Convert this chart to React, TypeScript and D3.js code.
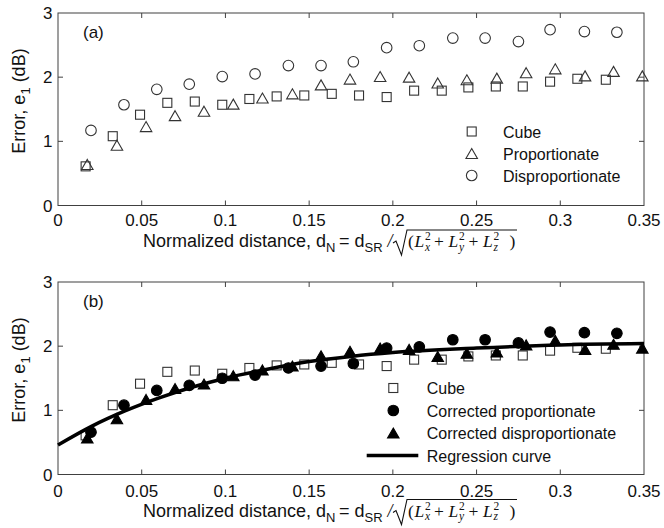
import React from "react";
import * as d3 from "d3";

// ---------- data ----------
const cubeD = [0.0165, 0.0327, 0.049, 0.0653, 0.0817, 0.0981, 0.1143, 0.1306, 0.1471, 0.1635, 0.1798, 0.1963, 0.2127, 0.2292, 0.2451, 0.2615, 0.2776, 0.2939, 0.3102, 0.3272];
const cubeE = [0.61, 1.08, 1.415, 1.6, 1.62, 1.57, 1.66, 1.7, 1.715, 1.74, 1.715, 1.69, 1.79, 1.79, 1.84, 1.855, 1.855, 1.93, 1.975, 1.96];

const propD = [0.0175, 0.0352, 0.0526, 0.0699, 0.0872, 0.1047, 0.1221, 0.14, 0.1571, 0.1744, 0.1924, 0.2097, 0.2268, 0.2442, 0.2621, 0.2796, 0.297, 0.3148, 0.3318, 0.349];
const propE = [0.64, 0.94, 1.23, 1.4, 1.47, 1.58, 1.675, 1.74, 1.88, 1.97, 2.01, 2.0, 1.91, 1.96, 1.985, 2.07, 2.13, 2.02, 2.09, 2.02];

const dispD = [0.0197, 0.0394, 0.059, 0.0784, 0.0981, 0.1177, 0.1376, 0.1571, 0.1764, 0.1963, 0.2158, 0.2358, 0.2551, 0.275, 0.2939, 0.3144, 0.3338];
const dispE = [1.17, 1.57, 1.81, 1.89, 2.01, 2.05, 2.18, 2.18, 2.24, 2.46, 2.49, 2.61, 2.61, 2.555, 2.74, 2.71, 2.7];

const corrPropE = [0.66, 1.08, 1.31, 1.39, 1.5, 1.55, 1.66, 1.69, 1.73, 1.97, 1.99, 2.1, 2.1, 2.05, 2.22, 2.21, 2.2];
const corrDispE = [0.57, 0.87, 1.17, 1.34, 1.41, 1.54, 1.63, 1.69, 1.85, 1.92, 1.97, 1.95, 1.84, 1.89, 1.91, 2.02, 2.09, 1.95, 2.03, 1.97];

const regD = [0, 0.02, 0.04, 0.06, 0.08, 0.1, 0.125, 0.15, 0.175, 0.2, 0.25, 0.3, 0.35];
const regE = [0.46, 0.75, 0.99, 1.19, 1.36, 1.5, 1.64, 1.76, 1.84, 1.9, 1.97, 2.02, 2.04];

const xTicks = [0, 0.05, 0.1, 0.15, 0.2, 0.25, 0.3, 0.35];
const xTickLabels = ["0", "0.05", "0.1", "0.15", "0.2", "0.25", "0.3", "0.35"];
const yTicks = [0, 1, 2, 3];

const legendA = ["Cube", "Proportionate", "Disproportionate"];
const legendB = ["Cube", "Corrected proportionate", "Corrected disproportionate", "Regression curve"];

// ---------- style ----------
const SANS = "'Liberation Sans', Arial, Helvetica, sans-serif";
const SERIF = "'Liberation Serif', 'Times New Roman', serif";
const AXIS = "#404040";
const OPEN = "#333";
const TXT = "#111";
const L = 58, R = 644;

const x = d3.scaleLinear().domain([0, 0.35]).range([L, R]);

function Square({ cx, cy }: { cx: number; cy: number }) {
  return <rect x={cx - 4.5} y={cy - 4.5} width={9} height={9} fill="none" stroke={OPEN} strokeWidth={1.1} />;
}
function Tri({ cx, cy, filled }: { cx: number; cy: number; filled?: boolean }) {
  const w = 11.5, h = 10;
  const p = `M${cx},${cy - h / 2}L${cx + w / 2},${cy + h / 2}L${cx - w / 2},${cy + h / 2}Z`;
  return <path d={p} fill={filled ? "#000" : "none"} stroke={filled ? "#000" : OPEN} strokeWidth={1.1} />;
}
function Circ({ cx, cy, filled }: { cx: number; cy: number; filled?: boolean }) {
  return <circle cx={cx} cy={cy} r={5.3} fill={filled ? "#000" : "none"} stroke={filled ? "#000" : OPEN} strokeWidth={1.1} />;
}

function XLabel({ base }: { base: number }) {
  const B = base;
  return (
    <g fill={TXT}>
      <text x={143} y={B} fontFamily={SANS} fontSize={18}>
        Normalized distance, d<tspan dy={5} fontSize={13}>N</tspan>
      </text>
      <text x={339} y={B} fontFamily={SANS} fontSize={18}>= d</text>
      <text x={364.5} y={B + 5} fontFamily={SANS} fontSize={13}>SR</text>
      <text x={387.5} y={B} fontFamily={SERIF} fontStyle="italic" fontSize={18}>/</text>
      <path d={`M393,${B - 4}L396,${B - 6}L401.5,${B + 8}L407,${B - 17}L517,${B - 17}`} fill="none" stroke={TXT} strokeWidth={1.1} />
      <text y={B} fontFamily={SERIF} fontSize={17.5}>
        <tspan x={408}>(</tspan>
        <tspan x={414.5} fontStyle="italic">L</tspan>
        <tspan x={425} dy={-7} fontSize={11.5}>2</tspan>
        <tspan x={425} dy={10.5} fontSize={11.5} fontStyle="italic">x</tspan>
        <tspan x={434} dy={-3.5}>+</tspan>
        <tspan x={448.5} fontStyle="italic">L</tspan>
        <tspan x={459} dy={-7} fontSize={11.5}>2</tspan>
        <tspan x={459} dy={10.5} fontSize={11.5} fontStyle="italic">y</tspan>
        <tspan x={468.5} dy={-3.5}>+</tspan>
        <tspan x={483} fontStyle="italic">L</tspan>
        <tspan x={493.5} dy={-7} fontSize={11.5}>2</tspan>
        <tspan x={493.5} dy={10.5} fontSize={11.5} fontStyle="italic">z</tspan>
        <tspan x={509.5} dy={-3.5}>)</tspan>
      </text>
    </g>
  );
}

function Frame({ y, top, bottom, tag, tickBase, labelBase, labelMid }: any) {
  return (
    <g>
      <rect x={L} y={top} width={R - L} height={bottom - top} fill="none" stroke={AXIS} strokeWidth={1} />
      {xTicks.slice(1, -1).map((t) => (
        <g key={"xt" + t}>
          <line x1={x(t)} x2={x(t)} y1={bottom} y2={bottom - 5} stroke={AXIS} />
          <line x1={x(t)} x2={x(t)} y1={top} y2={top + 5} stroke={AXIS} />
        </g>
      ))}
      {yTicks.slice(1, -1).map((t) => (
        <g key={"yt" + t}>
          <line x1={L} x2={L + 5} y1={y(t)} y2={y(t)} stroke={AXIS} />
          <line x1={R} x2={R - 5} y1={y(t)} y2={y(t)} stroke={AXIS} />
        </g>
      ))}
      {xTicks.map((t, i) => (
        <text key={"xl" + t} x={x(t)} y={tickBase} textAnchor="middle" fontFamily={SANS} fontSize={17} fill={TXT}>
          {xTickLabels[i]}
        </text>
      ))}
      {yTicks.map((t) => (
        <text key={"yl" + t} x={52.5} y={y(t) + 6} textAnchor="end" fontFamily={SANS} fontSize={17} fill={TXT}>
          {t}
        </text>
      ))}
      <text transform={`translate(24.5,${labelMid}) rotate(-90)`} textAnchor="middle" fontFamily={SANS} fontSize={18} fill={TXT}>
        Error, e<tspan dy={5} fontSize={13}>1</tspan><tspan dy={-5}> (dB)</tspan>
      </text>
      <text x={83} y={top + 25} fontFamily={SANS} fontSize={17} fill={TXT}>{tag}</text>
      <XLabel base={labelBase} />
    </g>
  );
}

export default function App() {
  const yA = d3.scaleLinear().domain([0, 3]).range([205.5, 13]);
  const yB = d3.scaleLinear().domain([0, 3]).range([474.5, 282]);
  const reg = d3.line<number>().x((_, i) => x(regD[i])).y((v) => yB(v)).curve(d3.curveMonotoneX)(regE) || "";

  return (
    <svg width={664} height={528} style={{ position: "absolute", left: 0, top: 0, background: "#fff" }}>
      <rect width={664} height={528} fill="#fff" />
      {/* Panel (a) */}
      <Frame y={yA} top={13} bottom={205.5} tag="(a)" tickBase={226} labelBase={247} labelMid={101} />
      {cubeD.map((d, i) => <Square key={"ca" + i} cx={x(d)} cy={yA(cubeE[i])} />)}
      {propD.map((d, i) => <Tri key={"pa" + i} cx={x(d)} cy={yA(propE[i])} />)}
      {dispD.map((d, i) => <Circ key={"da" + i} cx={x(d)} cy={yA(dispE[i])} />)}
      <g>
        <Square cx={471.7} cy={131.5} />
        <Tri cx={471.7} cy={153.5} />
        <Circ cx={471.7} cy={175.5} />
        {legendA.map((s, i) => (
          <text key={s} x={503} y={131.5 + i * 22 + 6} fontFamily={SANS} fontSize={16} fill={TXT}>{s}</text>
        ))}
      </g>

      {/* Panel (b) */}
      <Frame y={yB} top={282} bottom={474.5} tag="(b)" tickBase={496.5} labelBase={516.5} labelMid={370} />
      {cubeD.map((d, i) => <Square key={"cb" + i} cx={x(d)} cy={yB(cubeE[i])} />)}
      <path d={reg} fill="none" stroke="#000" strokeWidth={3.5} />
      {dispD.map((d, i) => <Circ key={"pb" + i} cx={x(d)} cy={yB(corrPropE[i])} filled />)}
      {propD.map((d, i) => <Tri key={"db" + i} cx={x(d)} cy={yB(corrDispE[i])} filled />)}
      <g>
        <Square cx={393.3} cy={388} />
        <Circ cx={393.3} cy={410.5} filled />
        <Tri cx={393.3} cy={433} filled />
        <line x1={366.7} x2={418.3} y1={455.5} y2={455.5} stroke="#000" strokeWidth={3.5} />
        {legendB.map((s, i) => (
          <text key={s} x={426.7} y={388 + i * 22.5 + 6} fontFamily={SANS} fontSize={16} fill={TXT}>{s}</text>
        ))}
      </g>
    </svg>
  );
}
